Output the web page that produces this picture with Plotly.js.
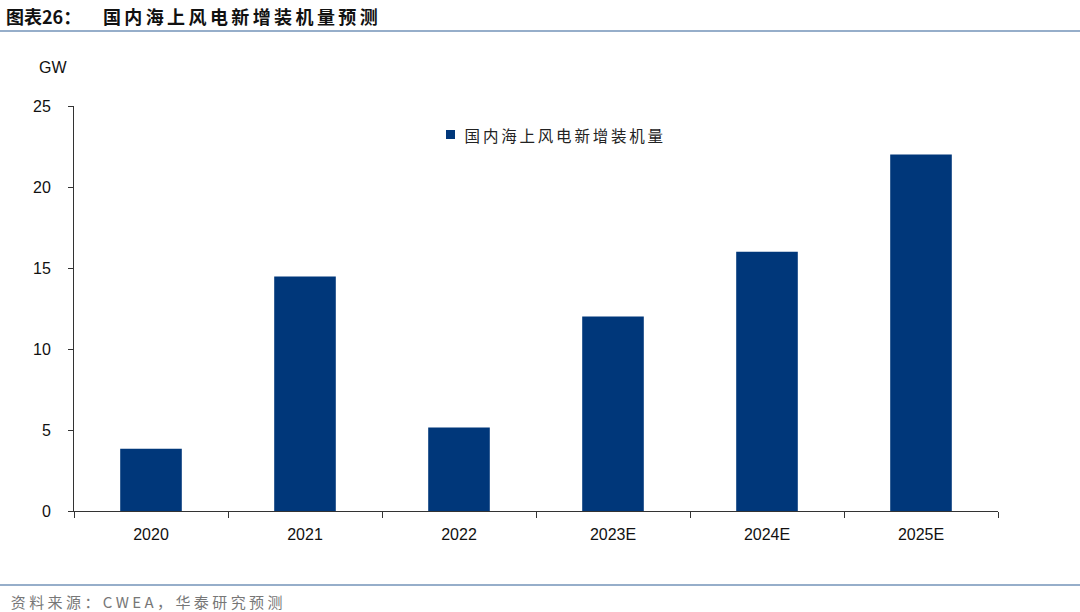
<!DOCTYPE html>
<html>
<head>
<meta charset="utf-8">
<script src="https://cdn.plot.ly/plotly-3.0.1.min.js"></script>
<style>
html,body{margin:0;padding:0;background:#fff;}
#chart{width:1080px;height:612px;}
g.annotation[data-index="1"] text{letter-spacing:3.4px;}
g.annotation[data-index="3"] text{letter-spacing:3.4px;}
g.annotation[data-index="4"] text{letter-spacing:2.8px;}
</style>
</head>
<body>
<div id="chart"></div>
<script>
const categories = ["2020", "2021", "2022", "2023E", "2024E", "2025E"];
const values = [3.84, 14.48, 5.16, 12, 16, 22];
const seriesName = "国内海上风电新增装机量";
const yTicks = [0, 5, 10, 15, 20, 25];

const barColor = "#00377a";
const lineColor = "#7393b8";
const cjk = "'Noto Sans CJK SC', 'Liberation Sans', sans-serif";
const latin = "'Liberation Sans', Arial, sans-serif";

// pixel -> paper helpers (plot area: x 74..998, y 106..511)
const PX = x => (x - 74) / 924;
const PY = y => (511 - y) / 405;

const data = [{
  type: "bar",
  x: categories,
  y: values,
  name: seriesName,
  marker: {color: barColor, line: {width: 0}},
  hoverinfo: "x+y"
}];

const layout = {
  width: 1080, height: 612,
  margin: {l: 74, r: 82, t: 106, b: 101, pad: 0},
  paper_bgcolor: "#ffffff", plot_bgcolor: "#ffffff",
  bargap: 0.6,
  showlegend: false,
  xaxis: {
    type: "category",
    showline: true, linecolor: "#333", linewidth: 1,
    ticks: "outside", tickson: "boundaries", ticklen: 6, tickcolor: "#333",
    tickfont: {family: latin, size: 16, color: "#111"},
    ticklabelstandoff: 9,
    showgrid: false, zeroline: false
  },
  yaxis: {
    range: [0, 25],
    tickvals: yTicks,
    showline: true, linecolor: "#333", linewidth: 1,
    ticks: "outside", ticklen: 5, tickcolor: "#333",
    tickfont: {family: latin, size: 16, color: "#111"},
    showgrid: false, zeroline: false,
    ticklabelstandoff: 14
  },
  shapes: [
    {type: "line", xref: "paper", yref: "paper", x0: PX(0), x1: PX(1080), y0: PY(31), y1: PY(31), line: {color: lineColor, width: 1.5}},
    {type: "line", xref: "paper", yref: "paper", x0: PX(0), x1: PX(1080), y0: PY(585), y1: PY(585), line: {color: lineColor, width: 1.5}},
    {type: "rect", xref: "paper", yref: "paper", x0: PX(446), x1: PX(455), y0: PY(130), y1: PY(139), fillcolor: barColor, line: {width: 0}}
  ],
  annotations: [
    {xref: "paper", yref: "paper", x: PX(4), y: PY(16), xanchor: "left", yanchor: "middle", showarrow: false,
     text: "<b>图表26：</b>", font: {family: cjk, size: 18, color: "#111"}},
    {xref: "paper", yref: "paper", x: PX(242), y: PY(16), xanchor: "center", yanchor: "middle", showarrow: false,
     text: "<b>国内海上风电新增装机量预测</b>", font: {family: cjk, size: 18, color: "#111"}},
    {xref: "paper", yref: "paper", x: PX(37), y: PY(68), xanchor: "left", yanchor: "middle", showarrow: false,
     text: "GW", font: {family: latin, size: 16, color: "#111"}},
    {xref: "paper", yref: "paper", x: PX(148), y: PY(601), xanchor: "center", yanchor: "middle", showarrow: false,
     text: "资料来源：CWEA，华泰研究预测", font: {family: cjk, size: 15, color: "#777"}},
    {xref: "paper", yref: "paper", x: PX(565), y: PY(135), xanchor: "center", yanchor: "middle", showarrow: false,
     text: seriesName, font: {family: cjk, size: 15.5, color: "#222"}}
  ]
};

Plotly.newPlot("chart", data, layout, {displayModeBar: false, staticPlot: true});
</script>
</body>
</html>
